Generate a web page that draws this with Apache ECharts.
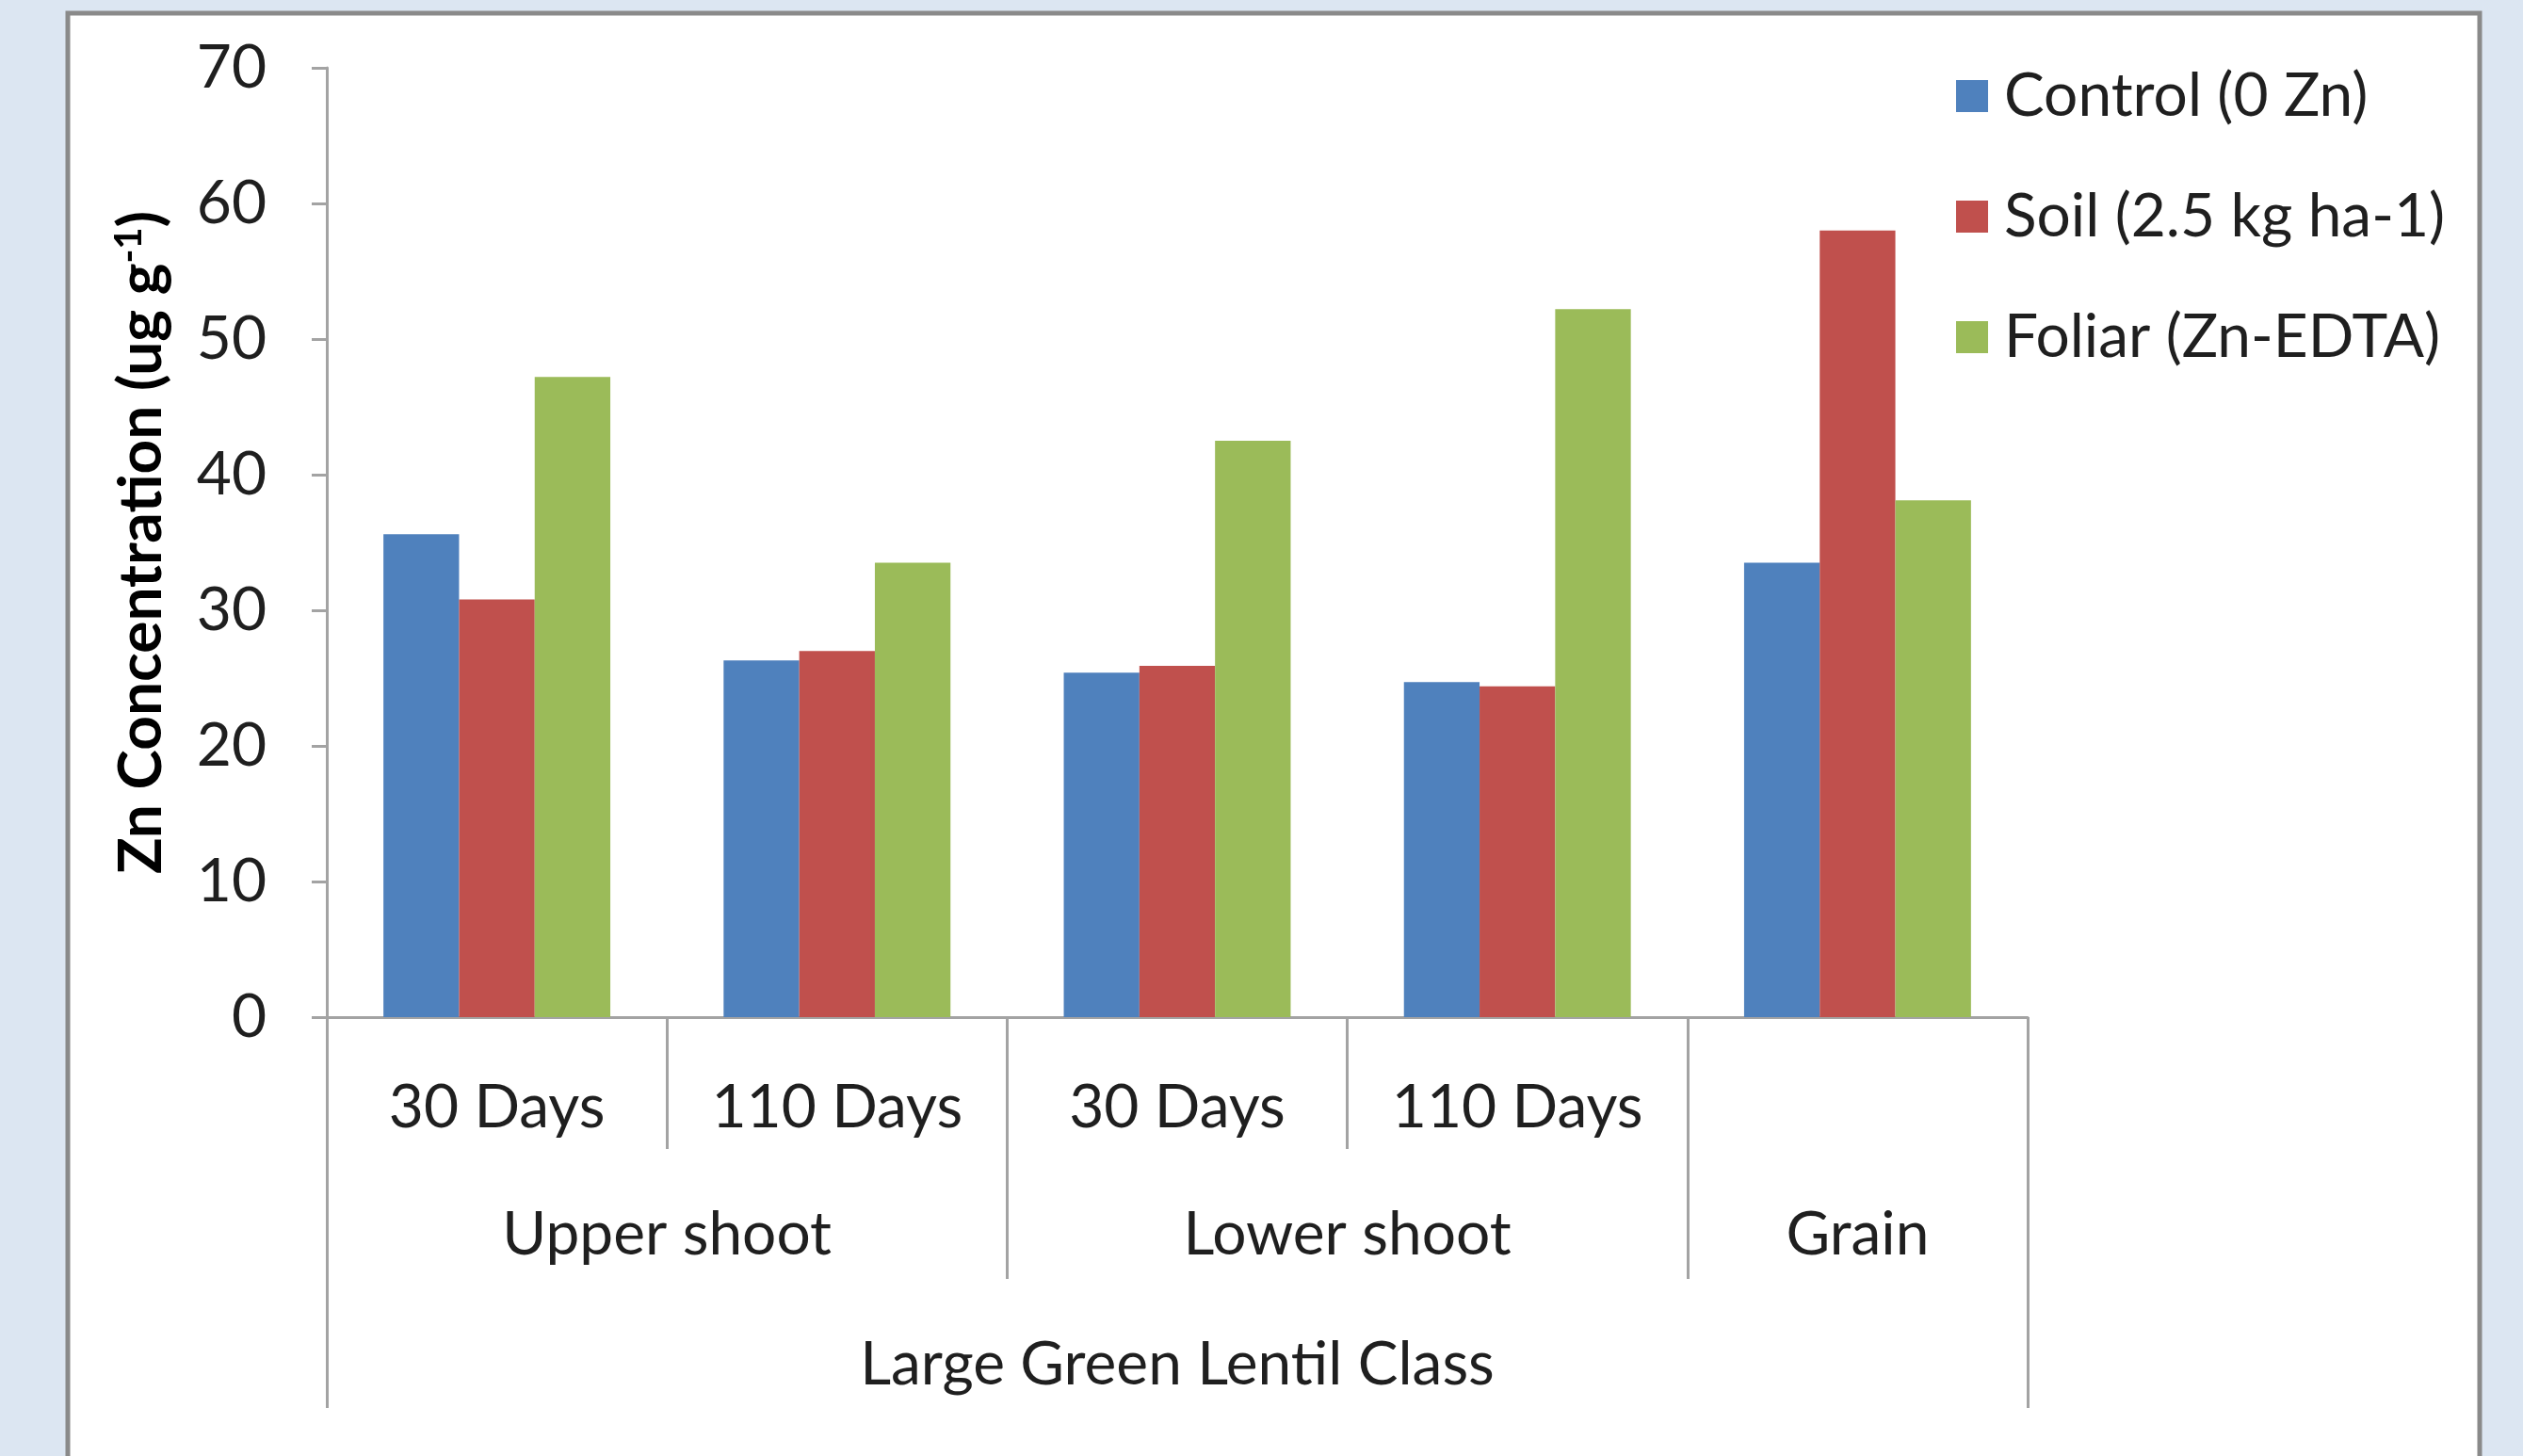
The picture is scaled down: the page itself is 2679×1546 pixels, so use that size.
<!DOCTYPE html>
<html>
<head>
<meta charset="utf-8">
<script src="https://cdn.jsdelivr.net/npm/echarts@6/dist/echarts.min.js"></script>
<style>
  html, body { margin: 0; padding: 0; background: #dce6f2; }
  #chart { width: 2679px; height: 1546px; }
</style>
</head>
<body>
<div id="chart"></div>
<script>
// Sampling stages (first row of the category axis)
const stages = ['30 Days', '110 Days', '30 Days', '110 Days', ''];
// Plant parts (second row) and how many stages each one spans
const organs = ['Upper shoot', 'Lower shoot', 'Grain'];
const organSpans = [2, 2, 1];
// Lentil class (third row)
const lentilClass = ['Large Green Lentil Class'];

// Zn treatments
const seriesNames = ['Control (0 Zn)', 'Soil (2.5 kg ha-1)', 'Foliar (Zn-EDTA)'];
const controlZn = [35.6, 26.3, 25.4, 24.7, 33.5];
const soilZn    = [30.8, 27.0, 25.9, 24.4, 58.0];
const foliarZn  = [47.2, 33.5, 42.5, 52.2, 38.1];
const seriesColors = ['#4f81bd', '#c0504d', '#9bbb59'];

// y-axis range
const yMin = 0, yMax = 70, yStep = 10;

// Second row uses half-category slots so labels can sit over spans
const nSlots = stages.length * 2 + 1;
const organSlots = new Array(nSlots).fill('');
const organBounds = [0];
let pos = 0;
organs.forEach((name, i) => {
  organSlots[pos * 2 + organSpans[i]] = name;
  pos += organSpans[i];
  organBounds.push(pos * 2);
});

const FONT = 'Lato, "Open Sans", sans-serif';
const TEXT = '#1f1f1f';
const AXIS = '#a3a3a3';

const chart = echarts.init(document.getElementById('chart'));
chart.setOption({
  backgroundColor: '#dce6f2',
  animation: false,
  textStyle: { fontFamily: FONT },
  graphic: [{
    type: 'rect',
    z: -10,
    shape: { x: 72, y: 14, width: 2561, height: 1600 },
    style: { fill: '#ffffff', stroke: '#8a8a8a', lineWidth: 5 }
  }],
  grid: { left: 347, right: 526, top: 72, bottom: 466, containLabel: false },
  legend: {
    orient: 'vertical',
    left: 2072,
    top: 64,
    itemWidth: 34,
    itemHeight: 34,
    itemGap: 62,
    icon: 'rect',
    data: seriesNames,
    textStyle: { fontFamily: FONT, fontSize: 64, color: TEXT, lineHeight: 66, padding: [0, 0, 0, 12] }
  },
  xAxis: [
    {
      type: 'category',
      position: 'bottom',
      data: stages,
      boundaryGap: true,
      axisLine: { show: true, lineStyle: { color: AXIS, width: 3 } },
      axisTick: { show: true, alignWithLabel: false, length: 140, lineStyle: { color: AXIS, width: 3 } },
      axisLabel: { interval: 0, margin: 96, verticalAlign: 'middle', fontFamily: FONT, fontSize: 64, color: TEXT }
    },
    {
      type: 'category',
      position: 'bottom',
      offset: 140,
      data: organSlots,
      boundaryGap: false,
      axisLine: { show: false },
      axisTick: {
        show: true, length: 138,
        interval: (idx) => organBounds.indexOf(idx) >= 0,
        lineStyle: { color: AXIS, width: 3 }
      },
      axisLabel: { interval: 0, margin: 91, verticalAlign: 'middle', fontFamily: FONT, fontSize: 64, color: TEXT }
    },
    {
      type: 'category',
      position: 'bottom',
      offset: 278,
      data: lentilClass,
      boundaryGap: true,
      axisLine: { show: false },
      axisTick: { show: true, alignWithLabel: false, length: 137, lineStyle: { color: AXIS, width: 3 } },
      axisLabel: { interval: 0, margin: 91, verticalAlign: 'middle', fontFamily: FONT, fontSize: 64, color: TEXT }
    }
  ],
  yAxis: {
    type: 'value',
    min: yMin, max: yMax, interval: yStep,
    axisLine: { show: true, lineStyle: { color: AXIS, width: 3 } },
    axisTick: { show: true, inside: false, length: 16, lineStyle: { color: AXIS, width: 3 } },
    splitLine: { show: false },
    axisLabel: { margin: 64, fontFamily: FONT, fontSize: 64, color: TEXT },
    name: '{b|Zn Concentration (ug g}{s|-1}{b|)}',
    nameLocation: 'middle',
    nameGap: 164,
    nameRotate: 90,
    nameTextStyle: {
      rich: {
        b: { fontFamily: FONT, fontWeight: 'bold', fontSize: 64, color: '#000' },
        s: { fontFamily: FONT, fontWeight: 'bold', fontSize: 40, color: '#000', verticalAlign: 'top', padding: [0, 0, 26, 0] }
      }
    }
  },
  series: [controlZn, soilZn, foliarZn].map((vals, i) => ({
    name: seriesNames[i],
    type: 'bar',
    xAxisIndex: 0,
    data: vals,
    barGap: '0%',
    barCategoryGap: '33.3%',
    itemStyle: { color: seriesColors[i] }
  }))
});
</script>
</body>
</html>
